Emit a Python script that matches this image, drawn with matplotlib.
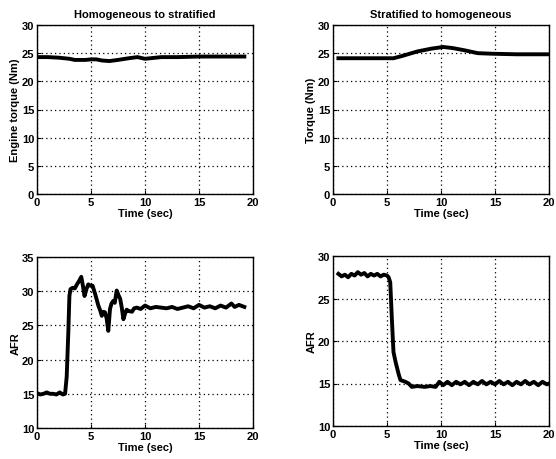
import matplotlib
matplotlib.use("Agg")
import matplotlib.pyplot as plt

# ---- data ----
t_tq1 = [0.0, 1.0, 2.0, 3.0, 3.5, 4.0, 4.5, 5.0, 5.5, 6.0, 6.7, 7.5, 8.5, 9.3, 10.0, 10.5, 11.5, 13.0, 15.0, 17.0, 19.2]
tq1 = [24.3, 24.3, 24.2, 24.0, 23.8, 23.8, 23.8, 23.9, 23.9, 23.7, 23.6, 23.8, 24.1, 24.3, 24.0, 24.1, 24.3, 24.3, 24.4, 24.4, 24.4]

t_tq2 = [0.5, 2.0, 4.0, 5.6, 6.4, 7.8, 9.1, 10.2, 11.1, 12.2, 13.4, 14.7, 17.0, 20.0]
tq2 = [24.1, 24.1, 24.1, 24.1, 24.5, 25.3, 25.8, 26.1, 25.9, 25.5, 25.0, 24.9, 24.8, 24.8]

t_afr1 = [0.0, 0.3, 0.6, 0.9, 1.2, 1.5, 1.8, 2.1, 2.4, 2.6, 2.75, 2.9, 3.0, 3.1, 3.3, 3.5, 3.7, 3.9, 4.1, 4.25, 4.4, 4.6, 4.75, 4.95, 5.15, 5.4, 5.68, 5.85, 6.0, 6.15, 6.3, 6.45, 6.6, 6.76, 6.9, 7.07, 7.2, 7.38, 7.55, 7.7, 7.85, 8.0, 8.15, 8.3, 8.5, 8.8, 9.0, 9.25, 9.6, 10.0, 10.5, 11.0, 11.5, 12.0, 12.5, 13.0, 13.5, 14.0, 14.5, 15.0, 15.5, 16.0, 16.5, 17.0, 17.5, 18.0, 18.3, 18.7, 19.2]
afr1 = [15.1, 14.9, 15.0, 15.2, 15.0, 15.0, 14.9, 15.2, 14.9, 15.0, 17.5, 24.0, 29.3, 30.3, 30.5, 30.4, 31.0, 31.5, 32.1, 30.8, 29.3, 30.4, 31.0, 30.8, 30.8, 29.5, 27.9, 27.2, 26.4, 27.0, 26.9, 26.0, 24.2, 27.4, 28.2, 28.6, 28.3, 30.1, 29.4, 28.9, 27.6, 25.9, 26.7, 27.3, 27.1, 27.0, 27.5, 27.6, 27.4, 27.9, 27.5, 27.7, 27.6, 27.5, 27.7, 27.4, 27.6, 27.8, 27.5, 28.0, 27.6, 27.8, 27.5, 27.9, 27.6, 28.2, 27.7, 28.0, 27.7]

t_afr2 = [0.5, 0.8, 1.1, 1.4, 1.7, 2.0, 2.3, 2.6, 2.9, 3.2, 3.5, 3.8, 4.1, 4.4, 4.7, 5.0, 5.15, 5.3, 5.45, 5.6, 5.8, 6.1, 6.25, 6.7, 7.0, 7.3, 7.8, 8.5, 9.0, 9.5, 9.85, 10.2, 10.6, 11.0, 11.4, 11.8, 12.2, 12.6, 13.0, 13.4, 13.8, 14.2, 14.6, 15.0, 15.4, 15.8, 16.2, 16.6, 17.0, 17.4, 17.8, 18.2, 18.6, 19.0, 19.4, 19.8, 20.0]
afr2 = [27.9, 27.6, 27.8, 27.5, 27.9, 27.7, 28.1, 27.8, 28.0, 27.6, 27.9, 27.7, 27.9, 27.6, 27.8, 27.7, 27.5, 26.9, 22.6, 18.7, 17.5, 16.0, 15.4, 15.2, 15.0, 14.6, 14.7, 14.6, 14.7, 14.6, 15.2, 14.8, 15.2, 14.8, 15.2, 14.9, 15.2, 14.8, 15.2, 14.9, 15.3, 14.9, 15.2, 14.9, 15.3, 14.9, 15.2, 14.8, 15.2, 14.9, 15.3, 14.9, 15.2, 14.8, 15.2, 14.9, 15.0]

xticks = [0, 5, 10, 15, 20]
titles = ["Homogeneous to stratified", "Stratified to homogeneous"]
ylabels = ["Engine torque (Nm)", "Torque (Nm)", "AFR", "AFR"]
xlabel = "Time (sec)"

plt.rcParams['font.family'] = ['Liberation Sans', 'DejaVu Sans']
plt.rcParams['font.weight'] = 'bold'

fig = plt.figure(figsize=(5.56, 4.6), dpi=100)
W, H = 556, 460
def add(x0, x1, ytop, ybot):
    return fig.add_axes([x0 / W, 1 - ybot / H, (x1 - x0) / W, (ybot - ytop) / H])

ax1 = add(37, 253, 26, 195)
ax2 = add(333, 549, 26, 195)
ax3 = add(37, 253, 258, 429)
ax4 = add(333, 549, 257, 427)

ax1.plot(t_tq1, tq1, color='black', lw=2.8)
ax2.plot(t_tq2, tq2, color='black', lw=2.8)
ax3.plot(t_afr1, afr1, color='black', lw=2.8)
ax4.plot(t_afr2, afr2, color='black', lw=2.8)

ax1.set_ylim(0, 30); ax2.set_ylim(0, 30)
ax3.set_ylim(10, 35); ax4.set_ylim(10, 30)
ax1.set_yticks([0, 5, 10, 15, 20, 25, 30])
ax2.set_yticks([0, 5, 10, 15, 20, 25, 30])
ax3.set_yticks([10, 15, 20, 25, 30, 35])
ax4.set_yticks([10, 15, 20, 25, 30])

for i, ax in enumerate([ax1, ax2, ax3, ax4]):
    ax.set_xlim(0, 20)
    ax.set_xticks(xticks)
    ax.grid(True, color='black', linestyle=(0, (1, 2.5)), linewidth=0.9)
    ax.tick_params(direction='in', length=3, labelsize=8, pad=2, width=0.8)
    for s in ax.spines.values():
        s.set_linewidth(1.0)
    ax.set_xlabel(xlabel, fontsize=8, fontweight='bold', labelpad=1)
    ax.set_ylabel(ylabels[i], fontsize=8, fontweight='bold', labelpad=1)
    for lab in ax.get_xticklabels() + ax.get_yticklabels():
        lab.set_fontweight('bold')

ax1.set_title(titles[0], fontsize=8, fontweight='bold', pad=6)
ax2.set_title(titles[1], fontsize=8, fontweight='bold', pad=6)

fig.savefig("out.png", dpi=100)
